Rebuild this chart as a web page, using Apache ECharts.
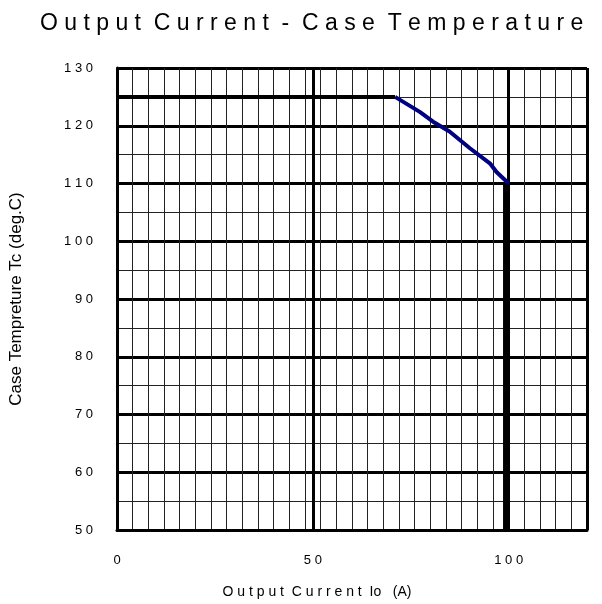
<!DOCTYPE html>
<html>
<head>
<meta charset="utf-8">
<script src="https://cdn.jsdelivr.net/npm/echarts@6/dist/echarts.min.js"></script>
<style>
  html, body { margin: 0; padding: 0; background: #fff; }
  #chart { width: 602px; height: 604px; }
</style>
</head>
<body>
<div id="chart"></div>
<script>
  // derating curve
  const plateauX = [0, 71]
  const plateauY = [125, 125]
  const curveX = [71, 77.3, 80.7, 84.9, 90.1, 95.2, 96.9, 100]
  const curveY = [125, 122.4, 120.7, 119.0, 116.1, 113.5, 112.0, 110]
  const dropX = [99.2, 99.2]
  const dropY = [110, 50]
  const xTicks = [0, 50, 100]

  const toPairs = (xs, ys) => xs.map((x, i) => [x, ys[i]])
  // spaced-out digits like the original
  const spaced = v => String(v).split('').join(' ')
  const font = '"Liberation Sans", Arial, sans-serif'

  var myChart = echarts.init(document.getElementById('chart'))
  var chartOption = {
    animation: false,
    title: {
      text: 'O u t p u t  C u r r e n t  -  C a s e  T e m p e r a t u r e',
      left: 35,
      top: 7,
      textStyle: { color: '#000', fontSize: 23, fontWeight: 'normal', fontFamily: font }
    },
    grid: { left: 117, right: 15, top: 68, bottom: 74 },
    xAxis: [
      {
        type: 'value', min: 0, max: 120, interval: 4, position: 'bottom',
        axisLine: { show: false }, axisTick: { show: false }, axisLabel: { show: false },
        splitLine: { show: true, lineStyle: { color: '#222', width: 1 } }
      },
      {
        type: 'value', min: 0, max: 120, interval: 50, position: 'bottom',
        name: 'O u t p u t  C u r r e n t  Io   (A)',
        nameLocation: 'middle', nameGap: 55,
        nameTextStyle: { color: '#000', fontSize: 14, fontFamily: font, padding: [0, 70, 0, 0] },
        axisLine: { show: true, onZero: false, lineStyle: { color: '#000', width: 3 } },
        axisTick: { show: false },
        axisLabel: {
          margin: 24, color: '#000', fontSize: 13, fontFamily: font,
          formatter: v => xTicks.indexOf(v) >= 0 ? spaced(v) : ''
        },
        splitLine: { show: true, lineStyle: { color: '#000', width: 3 } }
      }
    ],
    yAxis: [
      {
        type: 'value', min: 50, max: 130, interval: 5, position: 'left',
        axisLine: { show: false }, axisTick: { show: false }, axisLabel: { show: false },
        splitLine: { show: true, lineStyle: { color: '#222', width: 1 } }
      },
      {
        type: 'value', min: 50, max: 130, interval: 10, position: 'left',
        name: 'Case Tempreture Tc (deg.C)',
        nameLocation: 'middle', nameGap: 92, nameRotate: 90,
        nameTextStyle: { color: '#000', fontSize: 17, fontFamily: font },
        axisLine: { show: true, onZero: false, lineStyle: { color: '#000', width: 3 } },
        axisTick: { show: false },
        axisLabel: { margin: 24, color: '#000', fontSize: 13, fontFamily: font, formatter: v => spaced(v) },
        splitLine: { show: true, lineStyle: { color: '#000', width: 3 } }
      }
    ],
    series: [
      {
        name: 'plateau', type: 'line', xAxisIndex: 1, yAxisIndex: 1,
        data: toPairs(plateauX, plateauY), symbol: 'none',
        lineStyle: { color: '#000', width: 4 }
      },
      {
        name: 'derating', type: 'line', xAxisIndex: 1, yAxisIndex: 1,
        data: toPairs(curveX, curveY), symbol: 'none',
        lineStyle: { color: '#000080', width: 4 }
      },
      {
        name: 'limit', type: 'line', xAxisIndex: 1, yAxisIndex: 1,
        data: toPairs(dropX, dropY), symbol: 'none',
        lineStyle: { color: '#000', width: 5 }
      }
    ]
  }
  myChart.setOption(chartOption)
</script>
</body>
</html>
